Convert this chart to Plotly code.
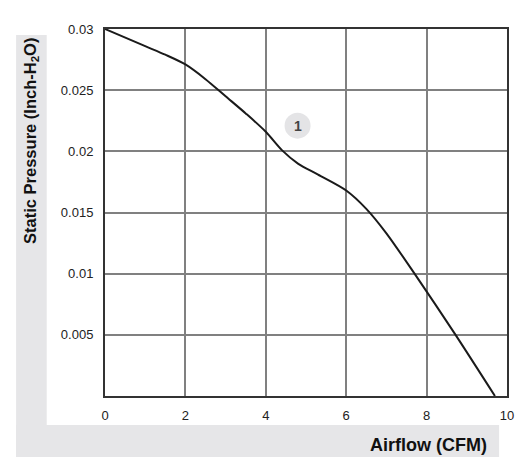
import plotly.graph_objects as go

airflow = [0, 1.0, 1.5, 2.0, 2.5, 3.0, 3.5, 4.0, 4.4, 4.8, 5.3, 6.0, 6.5, 7.0, 7.7, 8.7, 9.7]
pressure = [0.030, 0.0286, 0.0279, 0.0271, 0.0259, 0.0245, 0.0231, 0.0216, 0.0201, 0.0190, 0.0181, 0.0168, 0.0153, 0.0133, 0.0100, 0.0051, 0.0]

x_ticks = [0, 2, 4, 6, 8, 10]
y_ticks = [0.005, 0.01, 0.015, 0.02, 0.025, 0.03]
y_tick_labels = ["0.005", "0.01", "0.015", "0.02", "0.025", "0.03"]

W, H = 526, 474
L, R, T, B = 105, 512, 29, 396


def px(xp):
    return (xp - L) / (R - L)


def py(yp):
    return (B - yp) / (B - T)


fig = go.Figure()
fig.add_trace(go.Scatter(x=airflow, y=pressure, mode="lines",
                         line=dict(color="#1a1a1a", width=2, shape="spline", smoothing=0.8),
                         hoverinfo="skip", showlegend=False))

shapes = [
    dict(type="rect", xref="paper", yref="paper", x0=px(15), x1=px(46), y0=py(457), y1=py(35),
         fillcolor="#e6e6e8", line_width=0, layer="below"),
    dict(type="rect", xref="paper", yref="paper", x0=px(15), x1=px(504), y0=py(457), y1=py(425),
         fillcolor="#e6e6e8", line_width=0, layer="below"),
    dict(type="circle", xref="x", yref="y", xsizemode="pixel", ysizemode="pixel",
         xanchor=4.79, yanchor=0.0221, x0=-13, x1=13, y0=-13, y1=13,
         fillcolor="#e4e4e6", line_width=0, layer="above"),
]

annotations = [
    dict(x=4.79, y=0.0221, xref="x", yref="y", text="<b>1</b>", showarrow=False,
         font=dict(family="Arial", size=14, color="#444444")),
    dict(x=px(30), y=py(36), xref="paper", yref="paper", text="<b>Static Pressure (Inch-H<sub>2</sub>O)</b>",
         textangle=-90, showarrow=False, xanchor="center", yanchor="top",
         font=dict(family="Arial", size=16.5, color="#111111")),
    dict(x=px(494), y=py(445), xref="paper", yref="paper", text="<b>Airflow (CFM)</b>",
         showarrow=False, xanchor="right", yanchor="middle",
         font=dict(family="Arial", size=18, color="#111111")),
]

fig.update_layout(
    width=W, height=H,
    margin=dict(l=L, r=W - R, t=T, b=H - B),
    paper_bgcolor="white", plot_bgcolor="white",
    shapes=shapes, annotations=annotations,
    font=dict(family="Arial", size=13, color="#222222"),
)
fig.update_xaxes(range=[0, 10], tickvals=x_ticks, ticktext=[str(v) for v in x_ticks],
                 showgrid=True, gridcolor="#808080", gridwidth=2,
                 showline=True, linecolor="#333333", linewidth=2, mirror=True,
                 zeroline=False, ticks="", ticklabelstandoff=6,
                 tickfont=dict(family="Arial", size=13, color="#222222"))
fig.update_yaxes(range=[0, 0.03], tickvals=y_ticks, ticktext=y_tick_labels,
                 showgrid=True, gridcolor="#808080", gridwidth=2,
                 showline=True, linecolor="#333333", linewidth=2, mirror=True,
                 zeroline=False, ticks="", ticklabelstandoff=7,
                 tickfont=dict(family="Arial", size=13, color="#222222"))

fig.write_html("out.html")
